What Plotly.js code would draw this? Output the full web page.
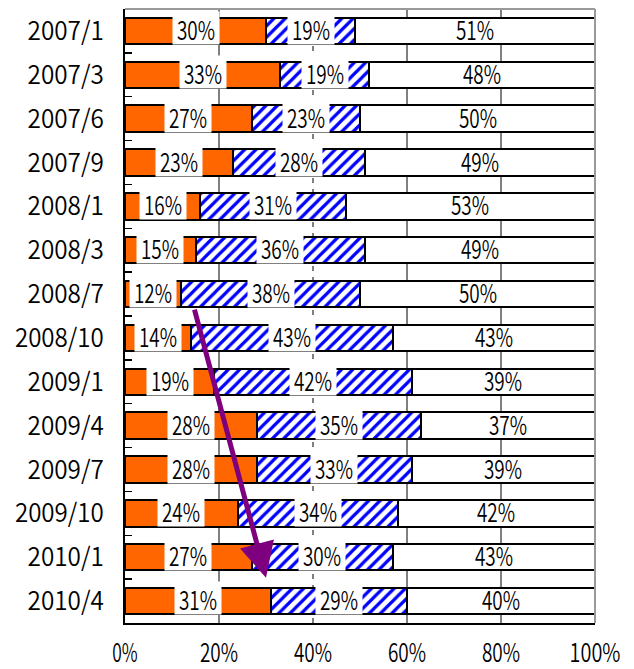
<!DOCTYPE html>
<html>
<head>
<meta charset="utf-8">
<script src="https://cdn.plot.ly/plotly-3.0.1.min.js"></script>
<style>html,body{margin:0;padding:0;background:#fff;}#chart{width:634px;height:669px;}</style>
</head>
<body>
<div id="chart"></div>
<script>
var categories = ["2007/1","2007/3","2007/6","2007/9","2008/1","2008/3","2008/7","2008/10","2009/1","2009/4","2009/7","2009/10","2010/1","2010/4"];
var orangeVals = [30,33,27,23,16,15,12,14,19,28,28,24,27,31];
var blueVals   = [19,19,23,28,31,36,38,43,42,35,33,34,30,29];
var whiteVals  = [51,48,50,49,53,49,50,43,39,37,39,42,43,40];
var xTickVals  = [0,20,40,60,80,100];
var xTickText  = ["0%","20%","40%","60%","80%","100%"];
var gridVals   = [20,40,60,80];
var gridDash   = ["solid","dash","solid","solid"];
var arrowFrom  = [14.7, 6.32];
var arrowTo    = [30.0, 12.47];

var FONT = '"Noto Sans CJK JP", "Liberation Mono", sans-serif';
var CHAR_W = 12.7;
var WEIGHT = 350;

var lineStyle = {color:'#000', width:2};
var traces = [
  {type:'bar', orientation:'h', y:categories, x:orangeVals, name:'A',
   marker:{color:'#FF6600', line:lineStyle}, hoverinfo:'x+y'},
  {type:'bar', orientation:'h', y:categories, x:blueVals, name:'B',
   marker:{color:'#FFFFFF', line:lineStyle,
     pattern:{shape:'/', fgcolor:'#0000FF', bgcolor:'#FFFFFF', size:8, solidity:0.4, fillmode:'replace'}}, hoverinfo:'x+y'},
  {type:'bar', orientation:'h', y:categories, x:whiteVals, name:'C',
   marker:{color:'#FFFFFF', line:lineStyle}, hoverinfo:'x+y'}
];

var annotations = [];
categories.forEach(function(c, i){
  var o = orangeVals[i], b = blueVals[i], w = whiteVals[i];
  var common = {xref:'x', yref:'y', y:i, showarrow:false, font:{family:FONT, size:26, weight:WEIGHT, color:'#000'},
                height:30, width:44, borderpad:1, yshift:3};
  annotations.push(Object.assign({}, common, {x:o/2, text:o+'%', bgcolor:'#FFFFFF'}));
  annotations.push(Object.assign({}, common, {x:o+b/2, text:b+'%', bgcolor:'#FFFFFF'}));
  annotations.push(Object.assign({}, common, {x:o+b+w/2, text:w+'%'}));
});
annotations.push({xref:'x', yref:'y', axref:'x', ayref:'y',
  x:arrowTo[0], y:arrowTo[1], ax:arrowFrom[0], ay:arrowFrom[1],
  text:'', showarrow:true, arrowhead:2, arrowsize:1.4, arrowwidth:5, arrowcolor:'#7F007F', standoff:0});

var shapes = gridVals.map(function(v, k){
  return {type:'line', xref:'x', yref:'paper', x0:v, x1:v, y0:0, y1:1, layer:'below',
          line:{color:'#000', width:1, dash:gridDash[k] === 'dash' ? '5px,6px' : 'solid'}};
});
shapes.push({type:'line', xref:'paper', yref:'paper', x0:0, x1:1, y0:1, y1:1, line:{color:'#999', width:2}});
shapes.push({type:'line', xref:'paper', yref:'paper', x0:1, x1:1, y0:0, y1:1, line:{color:'#999', width:2}});

var layout = {
  width:634, height:669,
  margin:{l:125, r:39, t:9, b:46, pad:0},
  paper_bgcolor:'#fff', plot_bgcolor:'#fff',
  barmode:'stack', bargap:0.4, showlegend:false,
  font:{family:FONT, color:'#000'},
  xaxis:{range:[0,100], tickvals:xTickVals, ticktext:xTickText, showgrid:false, zeroline:false,
         showline:true, linecolor:'#000', linewidth:2, ticks:'', ticklabelstandoff:6,
         tickfont:{family:FONT, size:26, weight:WEIGHT, color:'#000'}, fixedrange:true},
  yaxis:{type:'category', autorange:'reversed', showgrid:false, zeroline:false,
         showline:true, linecolor:'#000', linewidth:2, ticks:'inside', ticklen:7, tickwidth:1.5,
         tickcolor:'#000', tickson:'boundaries', ticklabelstandoff:14,
         tickfont:{family:FONT, size:26, weight:WEIGHT, color:'#000'}, fixedrange:true},
  annotations:annotations,
  shapes:shapes
};

function condense(){
  var nodes = document.querySelectorAll('#chart .xtick text, #chart .ytick text, #chart text.annotation-text');
  nodes.forEach(function(t){
    var n = t.textContent.length;
    if (!n) return;
    t.setAttribute('textLength', (n * CHAR_W).toFixed(1));
    t.setAttribute('lengthAdjust', 'spacingAndGlyphs');
  });
}

Plotly.newPlot('chart', traces, layout, {displayModeBar:false, staticPlot:true}).then(condense);
</script>
</body>
</html>
